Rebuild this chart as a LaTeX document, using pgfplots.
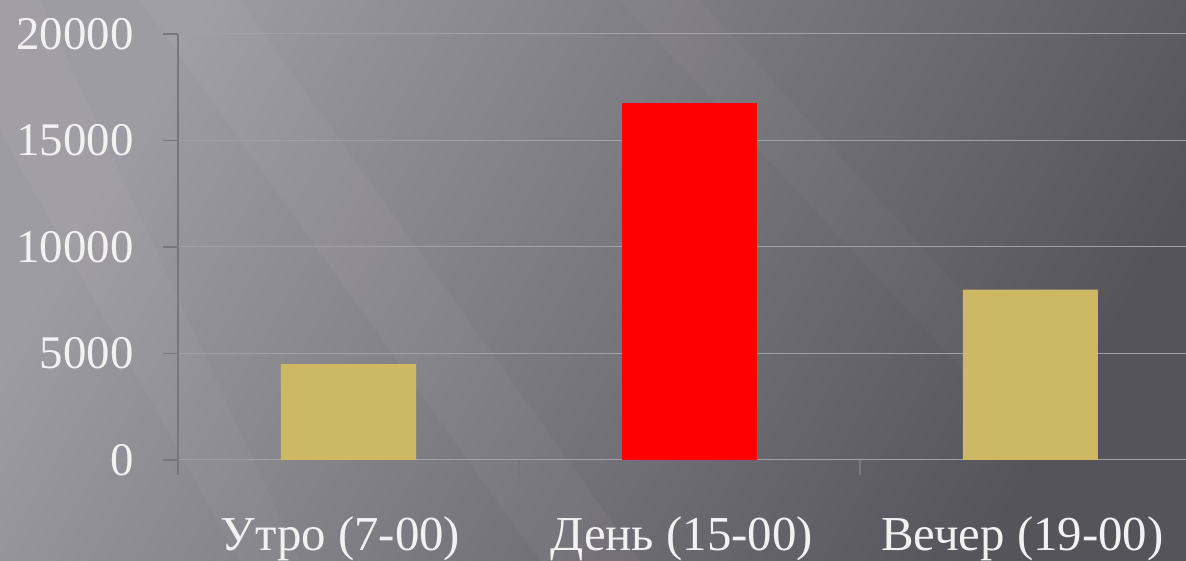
\documentclass[border=0pt]{standalone}
\usepackage{pgfplots}
\pgfplotsset{compat=1.18}
\usepackage{fontspec}
\setmainfont{Liberation Serif}
\definecolor{bgA}{RGB}{158,156,163}
\definecolor{bgB}{RGB}{86,84,91}
\definecolor{gridc}{RGB}{162,162,166}
\definecolor{axc}{RGB}{118,118,123}
\definecolor{barY}{RGB}{205,185,100}
\definecolor{txt}{RGB}{242,242,242}
\begin{document}
\begin{tikzpicture}[x=1bp,y=1bp]
\useasboundingbox (0,0) rectangle (1186,561);
\shade[shading=axis, left color=bgA, right color=bgB, shading angle=60] (0,0) rectangle (1186,561);
\fill[white, opacity=0.035] (140,561) -- (240,561) -- (640,0) -- (540,0) -- cycle;
\fill[white, opacity=0.03] (0,430) -- (0,561) -- (40,561) -- (300,0) -- (240,0) -- cycle;
\fill[white, opacity=0.025] (620,561) -- (700,561) -- (1060,160) -- (1010,140) -- cycle;
\begin{axis}[
  at={(178bp,101bp)}, anchor=south west,
  scale only axis, width=1023bp, height=426bp,
  xmin=-0.5, xmax=2.5, ymin=0, ymax=20000,
  axis lines=left, axis line style={-, draw=axc, line width=1.5bp},
  x axis line style={draw=none},
  scaled y ticks=false,
  ytick={0,5000,10000,15000,20000},
  yticklabels={0,5000,10000,15000,20000},
  ymajorgrids, grid style={gridc, line width=1bp},
  tick align=outside, xtick align=outside, ytick align=outside,
  major tick length=15bp,
  xtick style={draw=axc, line width=1.5bp},
  ytick style={draw=axc, line width=1.5bp},
  xtick={-0.5,0.5,1.5},
  xticklabels={},
  extra x ticks={0,1,2},
  extra x tick labels={Утро (7-00),День (15-00),Вечер (19-00)},
  extra x tick style={major tick length=0pt, grid=none},
  ticklabel style={font=\fontsize{47}{50}\selectfont, text=txt},
  yticklabel style={anchor=east, xshift=-26bp},
  xticklabel style={anchor=base, yshift=-91bp, xshift=-8bp, font=\fontsize{49}{52}\selectfont},
  bar width=135bp,
  clip=false,
]
\addplot[ybar, bar shift=0pt, fill=barY, draw=none] coordinates {(0,4500) (2,8000)};
\addplot[ybar, bar shift=0pt, fill=red, draw=none] coordinates {(1,16750)};
\end{axis}
\end{tikzpicture}
\end{document}
